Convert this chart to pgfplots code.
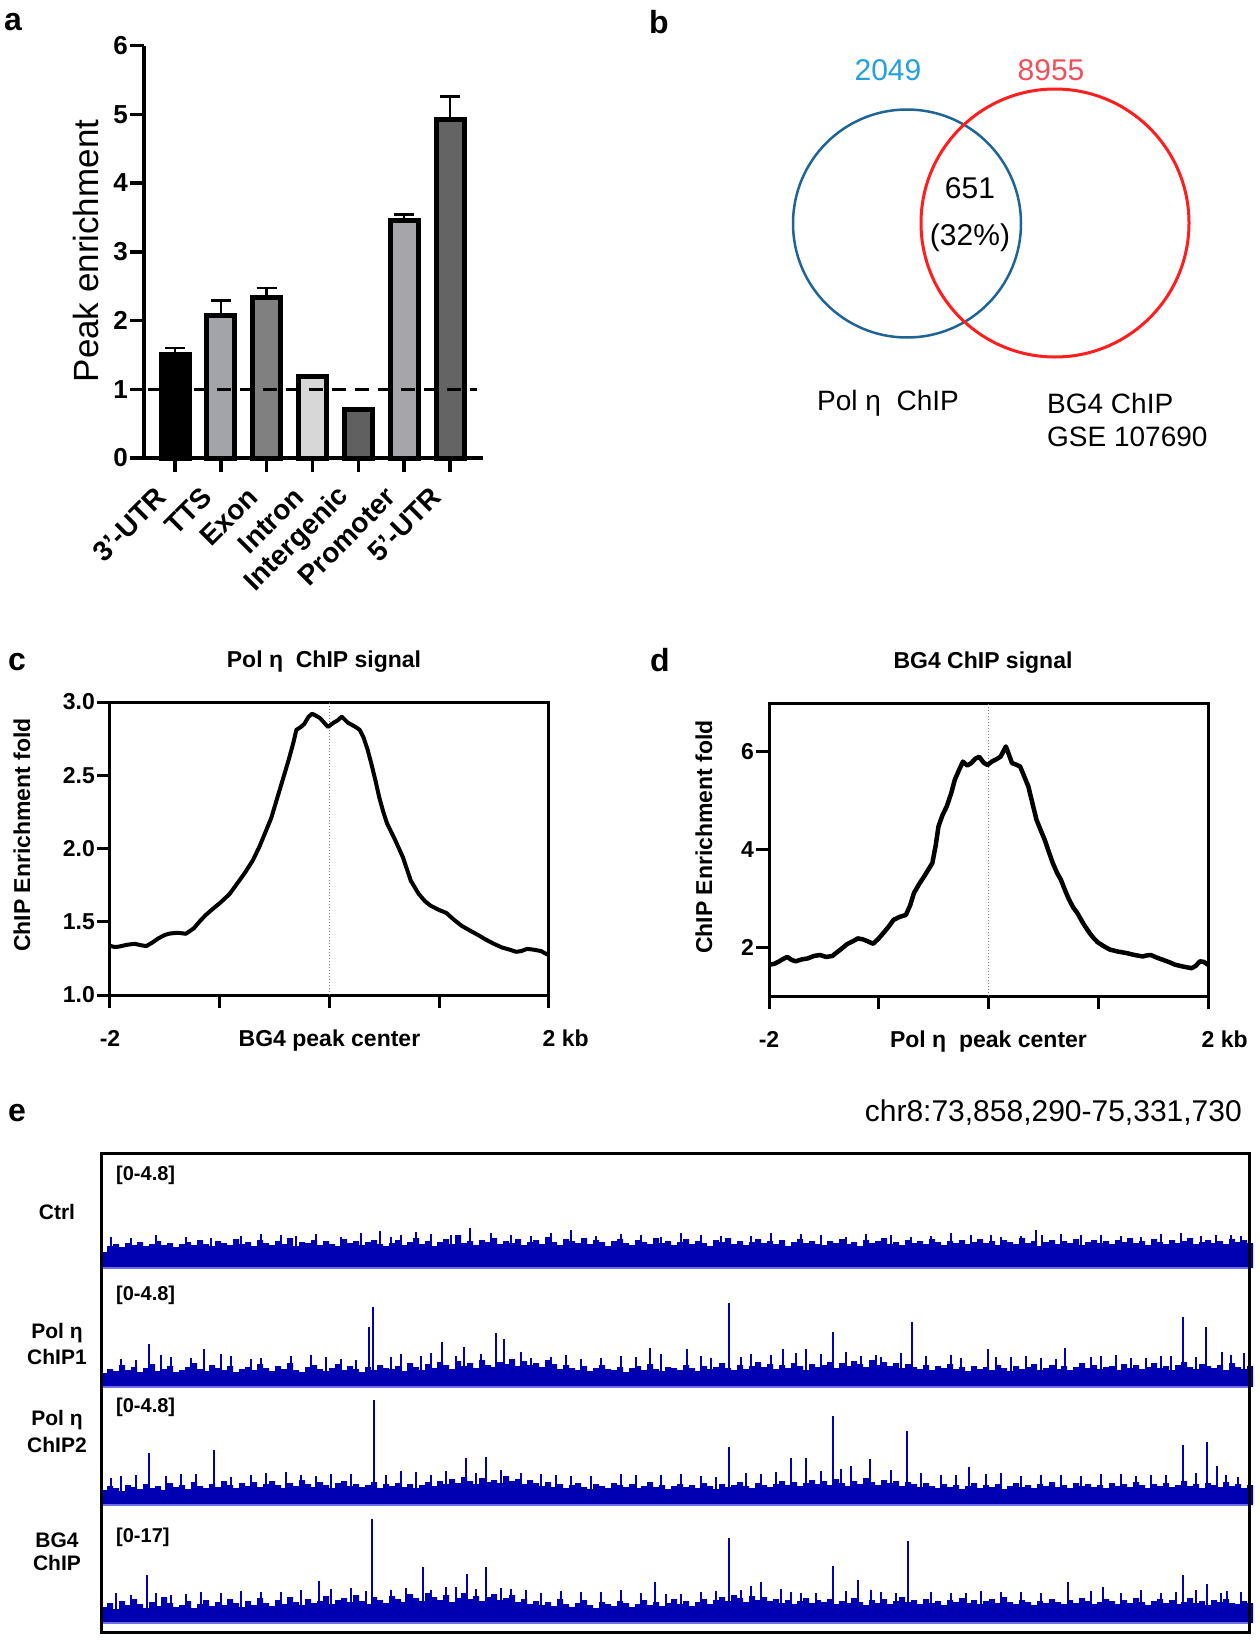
\documentclass[border=0pt]{standalone}
\usepackage{fontspec}
\setmainfont{Liberation Sans}
\usepackage{pgfplots}
\usepackage{pgfplotstable}
\pgfplotsset{compat=1.18}
\definecolor{igv}{RGB}{0,0,178}
\definecolor{igvline}{RGB}{110,110,230}
\definecolor{vblue}{RGB}{31,100,150}
\definecolor{vred}{RGB}{255,30,30}
\definecolor{nblue}{RGB}{35,160,225}
\definecolor{nred}{RGB}{240,80,90}
\definecolor{gTTS}{RGB}{163,163,170}
\definecolor{gExon}{RGB}{128,128,128}
\definecolor{gIntron}{RGB}{215,215,215}
\definecolor{gInter}{RGB}{96,96,96}
\definecolor{gProm}{RGB}{165,165,170}
\definecolor{gUTR}{RGB}{100,100,100}
\newcommand{\fs}[1]{\fontsize{#1}{#1}\selectfont}
\pgfplotsset{
  mybar/.style={ybar, bar width=28pt, bar shift=0pt, draw=black, line width=5pt, fill=#1,
    error bars/.cd, y dir=plus, y explicit, error mark=|,
    error bar style={line width=2.5pt, black},
    error mark options={line width=2.5pt, mark size=10pt, black}},
  track/.style={scale only axis, width=1148pt, height=114pt, xmin=0, xmax=1148, ymin=0, ymax=114, hide axis, clip=false},
  tex/.style={ycomb, igv, line width=1.5pt},
}
\begin{document}
\begin{tikzpicture}
\fill[white] (0pt,0pt) rectangle (1260pt,-1642pt);
\useasboundingbox (0pt,0pt) rectangle (1260pt,-1642pt);

% ---------------- panel a ----------------
\node[font=\bfseries\fs{32}] at (13pt,-22pt) {a};
\node[font=\fs{35}, rotate=90] at (86pt,-251pt) {Peak enrichment};
\begin{axis}[
  at={(144pt,-458pt)}, anchor=south west,
  scale only axis, width=339pt, height=412.5pt,
  xmin=-0.677, xmax=6.72, ymin=0, ymax=6,
  axis x line*=bottom, axis y line*=left,
  axis line style={line width=3.5pt},
  ytick={0,1,2,3,4,5,6}, xtick={0,1,2,3,4,5,6},
  xticklabels={3'-UTR,TTS,Exon,Intron,Intergenic,Promoter,5'-UTR},
  tick align=outside, major tick length=14pt,
  tick style={line width=3.5pt, black},
  yticklabel style={font=\bfseries\fs{26}, inner sep=2pt},
  xticklabel style={font=\bfseries\fs{28}, xshift=-12pt, yshift=-19pt, rotate=45, anchor=east, inner sep=2pt},
  /pgf/number format/assume math mode=true,
  clip=false,
]
\addplot[mybar=black] coordinates {(0,1.50) +- (0,0.10)};
\addplot[mybar=gTTS] coordinates {(1,2.08) +- (0,0.21)};
\addplot[mybar=gExon] coordinates {(2,2.34) +- (0,0.13)};
\addplot[mybar=gIntron] coordinates {(3,1.19) +- (0,0.02)};
\addplot[ybar, bar width=28pt, bar shift=0pt, draw=black, line width=5pt, fill=gInter] coordinates {(4,0.71)};
\addplot[mybar=gProm] coordinates {(5,3.45) +- (0,0.09)};
\addplot[mybar=gUTR] coordinates {(6,4.93) +- (0,0.33)};
\addplot[sharp plot, black, line width=3.5pt, dash pattern=on 14pt off 9pt] coordinates {(-0.6,1) (6.58,1)};
\end{axis}

% ---------------- panel b ----------------
\node[font=\bfseries\fs{32}] at (659pt,-22pt) {b};
\begin{axis}[at={(640pt,-520pt)}, anchor=south west, scale only axis, width=620pt, height=520pt,
  xmin=640, xmax=1260, ymin=-520, ymax=0, hide axis, clip=false]
\draw[vblue, line width=2.5pt] (axis cs:907,-223.5) circle[radius=114];
\draw[vred, line width=3pt] (axis cs:1055,-223) circle[radius=134];
\end{axis}
\node[font=\fs{30}, text=nblue] at (888pt,-70pt) {2049};
\node[font=\fs{30}, text=nred] at (1051pt,-70pt) {8955};
\node[font=\fs{30}] at (970pt,-188pt) {651};
\node[font=\fs{30}] at (970pt,-238pt) {(32\%)};
\node[font=\fs{28}] at (888pt,-403pt) {Pol η\ \ ChIP};
\node[font=\fs{28}, anchor=west, inner sep=0pt] at (1047pt,-403pt) {BG4 ChIP};
\node[font=\fs{28}, anchor=west, inner sep=0pt] at (1047pt,-437pt) {GSE 107690};

% ---------------- panel c ----------------
\node[font=\bfseries\fs{32}] at (17pt,-662pt) {c};
\node[font=\bfseries\fs{23}] at (324pt,-662pt) {Pol η\ \ ChIP signal};
\node[font=\bfseries\fs{23}, rotate=90] at (22pt,-835pt) {ChIP Enrichment fold};
\begin{axis}[at={(110pt,-995pt)}, anchor=south west, scale only axis, width=439pt, height=293pt,
  xmin=-2, xmax=2, ymin=1, ymax=3, axis line style={line width=3pt},
  xtick={-2,-1,0,1,2}, xticklabels={-2,,BG4 peak center,,\phantom{\ kb}2\ kb},
  ytick={1,1.5,2,2.5,3}, yticklabels={1.0,1.5,2.0,2.5,3.0},
  xtick pos=bottom, ytick pos=left, tick align=outside, major tick length=13pt,
  tick style={line width=3pt, black},
  ticklabel style={font=\bfseries\fs{23}, inner sep=2pt},
  xticklabel style={yshift=-20pt},
  clip=false]
\addplot[gray, dash pattern=on 1.5pt off 1.5pt, line width=1.2pt] coordinates {(0,1) (0,3)};
\addplot[black, line width=4pt, line join=round] table {
x y
-2.000 1.336
-1.960 1.328
-1.921 1.330
-1.850 1.342
-1.777 1.350
-1.720 1.340
-1.669 1.334
-1.610 1.360
-1.561 1.386
-1.500 1.410
-1.453 1.420
-1.380 1.425
-1.309 1.418
-1.237 1.455
-1.180 1.505
-1.129 1.545
-1.060 1.590
-0.986 1.636
-0.910 1.690
-0.842 1.760
-0.770 1.835
-0.698 1.920
-0.640 2.010
-0.590 2.100
-0.530 2.210
-0.482 2.330
-0.430 2.460
-0.374 2.600
-0.330 2.720
-0.302 2.810
-0.260 2.830
-0.230 2.850
-0.190 2.900
-0.158 2.920
-0.120 2.905
-0.086 2.890
-0.050 2.860
-0.014 2.830
 0.040 2.860
 0.075 2.875
 0.112 2.900
 0.165 2.860
 0.237 2.830
 0.275 2.810
 0.309 2.760
 0.345 2.680
 0.381 2.580
 0.420 2.460
 0.453 2.350
 0.490 2.250
 0.525 2.170
 0.597 2.060
 0.669 1.940
 0.705 1.860
 0.741 1.780
 0.813 1.690
 0.870 1.640
 0.921 1.610
 1.000 1.580
 1.065 1.560
 1.140 1.510
 1.209 1.470
 1.280 1.440
 1.353 1.410
 1.420 1.380
 1.496 1.350
 1.570 1.325
 1.640 1.310
 1.700 1.295
 1.748 1.300
 1.800 1.315
 1.856 1.310
 1.928 1.300
 2.000 1.270
};
\end{axis}

% ---------------- panel d ----------------
\node[font=\bfseries\fs{32}] at (660pt,-660pt) {d};
\node[font=\bfseries\fs{23}] at (983pt,-663pt) {BG4 ChIP signal};
\node[font=\bfseries\fs{23}, rotate=90] at (704pt,-837pt) {ChIP Enrichment fold};
\begin{axis}[at={(769pt,-996pt)}, anchor=south west, scale only axis, width=439pt, height=293pt,
  xmin=-2, xmax=2, ymin=1, ymax=7, axis line style={line width=3pt},
  xtick={-2,-1,0,1,2}, xticklabels={-2,,Pol η\ \ peak center,,\phantom{\ kb}2\ kb},
  ytick={2,4,6}, yticklabels={2,4,6},
  xtick pos=bottom, ytick pos=left, tick align=outside, major tick length=13pt,
  tick style={line width=3pt, black},
  ticklabel style={font=\bfseries\fs{23}, inner sep=2pt},
  xticklabel style={yshift=-20pt},
  clip=false]
\addplot[gray, dash pattern=on 1.5pt off 1.5pt, line width=1.2pt] coordinates {(0,1) (0,7)};
\addplot[black, line width=4.5pt, line join=round] table {
x y
-2.000 1.64
-1.950 1.66
-1.907 1.71
-1.870 1.76
-1.833 1.80
-1.795 1.74
-1.758 1.71
-1.700 1.75
-1.647 1.77
-1.590 1.82
-1.535 1.84
-1.480 1.80
-1.423 1.82
-1.390 1.88
-1.349 1.95
-1.290 2.06
-1.237 2.12
-1.190 2.18
-1.144 2.16
-1.100 2.12
-1.051 2.07
-1.000 2.18
-0.958 2.29
-0.910 2.42
-0.865 2.56
-0.810 2.62
-0.753 2.66
-0.715 2.85
-0.679 3.11
-0.630 3.30
-0.586 3.45
-0.545 3.60
-0.512 3.72
-0.480 4.10
-0.456 4.47
-0.420 4.70
-0.381 4.88
-0.340 5.15
-0.307 5.43
-0.270 5.62
-0.233 5.80
-0.195 5.72
-0.158 5.77
-0.120 5.86
-0.084 5.90
-0.045 5.78
-0.009 5.73
 0.030 5.80
 0.065 5.84
 0.110 5.90
 0.158 6.11
 0.190 5.92
 0.214 5.77
 0.250 5.74
 0.288 5.70
 0.325 5.50
 0.363 5.29
 0.400 4.95
 0.437 4.61
 0.475 4.40
 0.512 4.20
 0.550 3.95
 0.586 3.72
 0.625 3.52
 0.660 3.38
 0.700 3.15
 0.735 2.97
 0.770 2.82
 0.809 2.70
 0.865 2.48
 0.921 2.29
 0.960 2.18
 0.995 2.10
 1.050 2.02
 1.107 1.95
 1.180 1.91
 1.256 1.88
 1.330 1.84
 1.405 1.81
 1.440 1.83
 1.479 1.84
 1.540 1.78
 1.591 1.74
 1.650 1.69
 1.702 1.64
 1.780 1.60
 1.851 1.57
 1.890 1.62
 1.926 1.71
 1.960 1.70
 2.000 1.64
};
\end{axis}

% ---------------- panel e ----------------
\node[font=\bfseries\fs{32}] at (17pt,-1113pt) {e};
\node[font=\fs{30}, anchor=east, inner sep=0pt] at (1242pt,-1113pt) {chr8:73,858,290-75,331,730};

% track 1 : Ctrl
\begin{axis}[track, at={(101pt,-1268pt)}, anchor=south west]
\addplot[const plot, fill=igv, draw=none] table[row sep=\\, x expr=\coordindex*6, y index=0] {h\\
16\\22\\24\\21\\25\\23\\26\\22\\24\\27\\23\\25\\21\\24\\26\\23\\28\\24\\22\\27\\25\\23\\29\\24\\
26\\22\\28\\25\\23\\27\\24\\30\\22\\26\\25\\28\\23\\27\\24\\22\\29\\25\\27\\23\\26\\28\\24\\22\\
25\\28\\23\\26\\30\\24\\27\\22\\26\\29\\24\\33\\25\\27\\23\\28\\26\\30\\24\\27\\25\\29\\23\\26\\
28\\24\\31\\26\\23\\29\\27\\25\\30\\24\\28\\26\\22\\27\\29\\25\\23\\28\\26\\24\\30\\25\\27\\23\\
26\\29\\24\\27\\25\\22\\28\\26\\30\\24\\27\\23\\26\\29\\25\\27\\24\\28\\22\\26\\29\\25\\27\\24\\
23\\27\\25\\29\\24\\26\\22\\28\\25\\27\\30\\24\\26\\23\\28\\25\\27\\24\\29\\26\\23\\27\\25\\28\\
24\\26\\29\\25\\27\\23\\28\\26\\24\\30\\25\\27\\22\\26\\28\\24\\27\\25\\29\\23\\26\\28\\25\\27\\
24\\28\\26\\30\\25\\27\\23\\29\\26\\24\\28\\25\\27\\30\\24\\26\\28\\25\\27\\24\\29\\26\\28\\25\\25\\
} \closedcycle;
\addplot[ycomb, igv, line width=1.6pt] coordinates {(279,37)(369,40)(935,38)(941,33)
(30,30)(85,31)(140,32)(180,33)(215,34)(240,31)(300,33)(330,34)(410,33)(450,35)(495,32)(520,34)
(560,31)(600,33)(650,32)(700,34)(745,31)(790,33)(830,32)(870,33)(900,31)(980,33)(1020,32)(1060,34)(1100,32)(1130,33)};
\addplot[tex] coordinates {(10,31)(55,33)(110,30)(160,34)(195,32)(260,35)(290,31)(315,36)(350,33)(390,35)(430,32)
(470,38)(540,33)(580,35)(620,32)(670,35)(720,33)(765,34)(810,31)(850,35)(890,33)(920,32)(960,34)(1000,33)(1040,31)
(1080,35)(1115,33)(1140,32)};
\addplot[igvline, line width=1.5pt] coordinates {(0,0) (1148,0)};
\end{axis}

% track 2 : Pol eta ChIP1
\begin{axis}[track, at={(101pt,-1387pt)}, anchor=south west]
\addplot[const plot, fill=igv, draw=none] table[row sep=\\, x expr=\coordindex*6, y index=0] {h\\
14\\18\\16\\22\\17\\20\\15\\19\\23\\16\\18\\21\\15\\17\\20\\24\\18\\16\\22\\19\\17\\21\\15\\18\\
20\\17\\23\\19\\16\\21\\18\\24\\17\\15\\20\\22\\18\\16\\19\\23\\17\\21\\18\\15\\20\\17\\22\\19\\
18\\21\\16\\24\\20\\17\\23\\19\\25\\22\\18\\26\\21\\24\\19\\27\\22\\20\\25\\23\\28\\21\\26\\22\\
24\\20\\27\\23\\18\\22\\19\\17\\21\\16\\19\\22\\18\\17\\20\\15\\19\\21\\17\\23\\18\\16\\20\\19\\
17\\22\\19\\16\\21\\18\\20\\24\\19\\17\\22\\18\\21\\25\\20\\23\\18\\22\\19\\24\\21\\17\\23\\20\\
22\\25\\19\\24\\21\\26\\23\\20\\27\\22\\25\\21\\24\\19\\23\\20\\18\\22\\17\\21\\19\\23\\18\\20\\
16\\21\\18\\20\\17\\22\\19\\16\\21\\18\\20\\23\\17\\19\\22\\18\\21\\17\\20\\24\\19\\22\\18\\20\\
21\\17\\23\\19\\22\\18\\20\\24\\19\\21\\17\\22\\25\\20\\18\\23\\21\\19\\22\\17\\24\\20\\18\\21\\21\\
} \closedcycle;
\addplot[ycomb, igv, line width=2pt] coordinates {(48,43)(103,38)(268,60)(272,80)(341,45)(363,40)(395,54)(403,48)
(549,39)(586,38)(628,84)(682,38)(705,38)(732,55)(811,65)(887,38)(964,39)(1082,70)(1105,60)(1121,35)(1143,34)};
\addplot[ycomb, igv, line width=1.6pt] coordinates {(20,28)(70,30)(130,31)(160,29)(210,32)(240,28)(300,33)(320,31)
(450,30)(480,28)(520,31)(610,29)(650,33)(760,31)(780,30)(850,32)(910,30)(940,29)(1000,31)(1030,29)(1060,31)};
\addplot[tex] coordinates {(35,27)(60,32)(90,29)(120,33)(150,28)(190,31)(225,30)(255,27)(290,30)(330,34)(355,31)
(380,33)(420,35)(430,29)(465,32)(500,29)(535,30)(560,33)(600,31)(640,30)(670,32)(695,34)(720,33)(745,35)(775,32)
(800,34)(825,31)(860,29)(895,30)(925,31)(955,28)(990,30)(1015,32)(1045,29)(1070,31)(1095,30)(1130,32)};
\addplot[igvline, line width=1.5pt] coordinates {(0,0) (1148,0)};
\end{axis}

% track 3 : Pol eta ChIP2
\begin{axis}[track, at={(101pt,-1505pt)}, anchor=south west]
\addplot[const plot, fill=igv, draw=none] table[row sep=\\, x expr=\coordindex*6, y index=0] {h\\
15\\19\\17\\14\\20\\18\\16\\21\\17\\19\\15\\22\\18\\20\\16\\23\\19\\17\\21\\18\\24\\20\\17\\22\\
19\\23\\18\\21\\24\\20\\17\\22\\19\\25\\21\\18\\23\\20\\17\\22\\24\\19\\21\\18\\20\\23\\17\\21\\
19\\22\\18\\21\\17\\20\\23\\19\\24\\21\\26\\22\\28\\24\\21\\27\\23\\25\\22\\29\\24\\26\\21\\25\\
22\\19\\23\\18\\21\\17\\20\\22\\18\\16\\21\\19\\17\\22\\20\\18\\21\\17\\19\\23\\18\\20\\16\\19\\
21\\18\\20\\17\\22\\19\\16\\21\\18\\20\\23\\19\\17\\22\\20\\18\\21\\24\\20\\23\\19\\22\\25\\21\\
24\\20\\26\\22\\19\\24\\21\\27\\23\\20\\25\\22\\24\\19\\23\\21\\18\\22\\19\\17\\21\\18\\20\\16\\
19\\22\\17\\20\\18\\21\\16\\19\\22\\18\\20\\17\\21\\19\\23\\18\\20\\17\\22\\19\\21\\18\\20\\17\\
22\\19\\21\\18\\23\\20\\17\\21\\19\\22\\18\\20\\24\\19\\21\\17\\22\\20\\18\\23\\19\\21\\17\\20\\20\\
} \closedcycle;
\addplot[ycomb, igv, line width=2pt] coordinates {(48,52)(113,55)(273,105)(365,47)(385,48)(628,58)(690,47)(705,47)
(732,89)(750,39)(769,46)(806,74)(868,38)(1082,60)(1106,63)(1116,39)(1137,28)};
\addplot[ycomb, igv, line width=1.6pt] coordinates {(20,29)(80,31)(150,30)(185,33)(230,31)(300,34)(330,30)(420,32)
(470,29)(520,31)(560,30)(600,29)(660,31)(840,30)(900,32)(940,30)(980,29)(1020,31)(1050,30)};
\addplot[tex] coordinates {(10,27)(35,30)(65,29)(95,31)(130,28)(165,32)(200,30)(215,29)(250,31)(285,30)(315,33)
(345,34)(375,32)(400,35)(440,31)(455,30)(490,29)(535,30)(580,31)(615,28)(645,32)(675,33)(720,34)(740,36)(790,35)
(820,32)(855,30)(885,31)(920,29)(960,30)(1000,31)(1035,29)(1065,30)(1095,32)(1125,30)};
\addplot[igvline, line width=1.5pt] coordinates {(0,0) (1148,0)};
\end{axis}

% track 4 : BG4 ChIP
\begin{axis}[track, at={(101pt,-1623pt)}, anchor=south west]
\addplot[const plot, fill=igv, draw=none] table[row sep=\\, x expr=\coordindex*6, y index=0] {h\\
16\\20\\14\\22\\18\\24\\19\\15\\21\\17\\26\\20\\16\\18\\22\\15\\19\\23\\17\\21\\18\\24\\20\\16\\
22\\18\\25\\20\\17\\23\\19\\26\\21\\18\\24\\20\\22\\27\\19\\23\\25\\21\\28\\22\\19\\26\\23\\20\\
27\\24\\21\\29\\25\\22\\30\\26\\23\\28\\21\\25\\30\\24\\27\\22\\26\\29\\23\\25\\28\\21\\24\\19\\
22\\18\\21\\17\\24\\19\\16\\20\\23\\18\\15\\21\\19\\17\\22\\20\\16\\19\\23\\18\\21\\17\\20\\24\\
19\\22\\17\\21\\24\\19\\23\\26\\22\\28\\25\\21\\27\\23\\26\\22\\24\\20\\23\\19\\22\\25\\20\\23\\
21\\24\\19\\22\\20\\25\\21\\18\\23\\20\\24\\19\\22\\26\\21\\23\\19\\24\\20\\22\\18\\23\\21\\25\\
20\\23\\19\\22\\24\\20\\26\\21\\19\\23\\21\\18\\22\\20\\24\\21\\19\\23\\20\\25\\22\\19\\21\\24\\
22\\19\\23\\20\\25\\21\\18\\22\\24\\20\\23\\19\\21\\25\\20\\22\\18\\23\\21\\24\\20\\19\\22\\20\\20\\
} \closedcycle;
\addplot[ycomb, igv, line width=2pt] coordinates {(46,48)(218,42)(271,104)(322,56)(366,49)(385,56)(554,41)(628,85)
(650,37)(660,41)(732,57)(757,43)(807,82)(967,41)(1002,36)(1082,48)(1106,39)(1126,32)};
\addplot[ycomb, igv, line width=1.6pt] coordinates {(15,30)(70,28)(100,31)(140,32)(180,31)(250,35)(290,33)(345,36)
(410,34)(440,30)(480,31)(520,33)(580,29)(600,31)(680,34)(700,30)(780,31)(850,30)(880,32)(920,31)(1040,33)(1060,30)};
\addplot[tex] coordinates {(30,28)(55,30)(85,29)(120,30)(160,31)(200,33)(230,34)(265,32)(305,35)(330,33)(355,36)
(375,34)(400,35)(425,33)(460,32)(500,31)(540,30)(565,29)(615,32)(640,33)(690,31)(715,30)(745,32)(770,33)(795,30)
(830,31)(865,30)(900,31)(940,30)(990,32)(1020,30)(1075,31)(1095,33)(1120,30)(1140,31)};
\addplot[igvline, line width=1.5pt] coordinates {(0,0) (1148,0)};
\end{axis}

\draw[line width=3pt] (101pt,-1153pt) rectangle (1249pt,-1632pt);
\node[font=\bfseries\fs{20}, anchor=west, inner sep=0pt] at (116pt,-1175pt) {[0-4.8]};
\node[font=\bfseries\fs{20}, anchor=west, inner sep=0pt] at (116pt,-1295pt) {[0-4.8]};
\node[font=\bfseries\fs{20}, anchor=west, inner sep=0pt] at (116pt,-1407pt) {[0-4.8]};
\node[font=\bfseries\fs{20}, anchor=west, inner sep=0pt] at (116pt,-1537pt) {[0-17]};
\node[font=\bfseries\fs{21}] at (57pt,-1212pt) {Ctrl};
\node[font=\bfseries\fs{21}] at (57pt,-1333pt) {Pol η};
\node[font=\bfseries\fs{21}] at (57pt,-1357pt) {ChIP1};
\node[font=\bfseries\fs{21}] at (57pt,-1420pt) {Pol η};
\node[font=\bfseries\fs{21}] at (57pt,-1445pt) {ChIP2};
\node[font=\bfseries\fs{21}] at (57pt,-1540pt) {BG4};
\node[font=\bfseries\fs{21}] at (57pt,-1563pt) {ChIP};
\end{tikzpicture}
\end{document}
